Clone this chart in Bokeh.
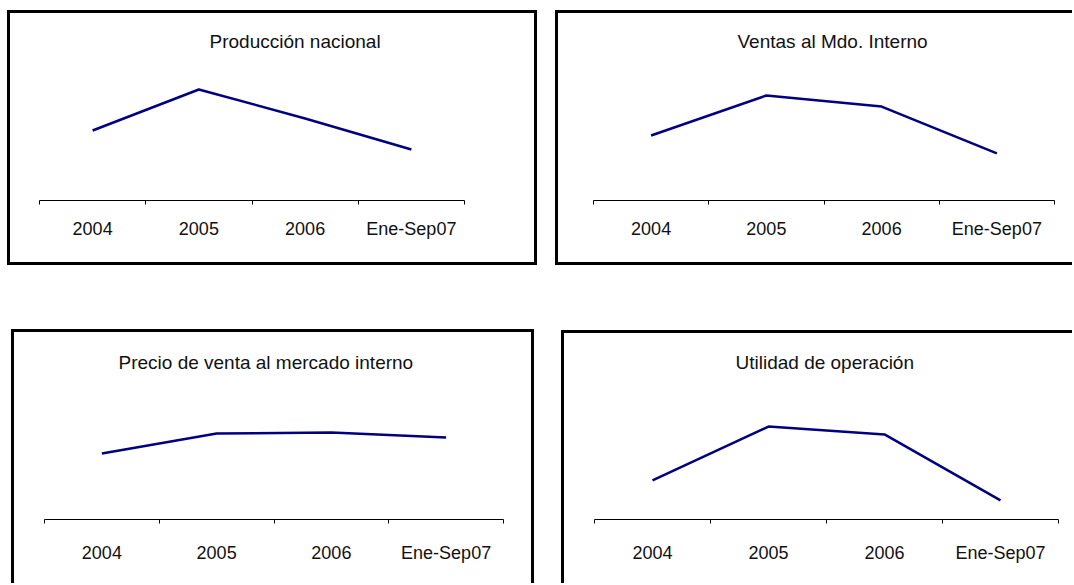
from bokeh.plotting import figure
from bokeh.models import Range1d, LinearAxis, FixedTicker, Spacer
from bokeh.layouts import row, column
from bokeh.embed import file_html
from bokeh.resources import INLINE

# ---- data (relative index; no y scale is printed) ----
categories = ["2004", "2005", "2006", "Ene-Sep07"]
produccion = [50.0, 79.3, 58.6, 36.4]
ventas = [46.4, 75.0, 67.1, 33.6]
precio = [47.5, 61.9, 62.6, 59.0]
utilidad = [28.1, 66.9, 61.2, 13.7]
titles = ["Producción nacional", "Ventas al Mdo. Interno",
          "Precio de venta al mercado interno", "Utilidad de operación"]

FONT = "Liberation Sans"
LINE_COLOR = "#000080"
BORDER = 3


def panel(title, values, width, height, ml, mr, mt, mb, title_offset,
          title_standoff, label_standoff, sides):
    n = len(categories)
    # the canvas is sized to the bordered box, so widen the far margins
    bh = BORDER * sum(s in sides for s in ("left", "right"))
    bv = BORDER * sum(s in sides for s in ("top", "bottom"))
    p = figure(width=width, height=height,
               x_range=Range1d(0, n), y_range=Range1d(0, 100),
               x_axis_location=None, y_axis_location=None,
               toolbar_location=None, output_backend="svg",
               min_border_left=ml, min_border_right=mr + bh,
               min_border_top=mt, min_border_bottom=mb + bv,
               title=title)
    p.outline_line_color = None
    p.xgrid.visible = False
    p.ygrid.visible = False
    p.background_fill_color = "white"
    p.border_fill_color = "white"

    centers = [i + 0.5 for i in range(n)]
    axis = LinearAxis(
        ticker=FixedTicker(ticks=centers, minor_ticks=list(range(n + 1))),
        major_label_overrides={c: cat for c, cat in zip(centers, categories)},
    )
    axis.major_tick_line_color = None
    axis.major_tick_out = 0
    axis.major_tick_in = 0
    axis.minor_tick_line_color = "#000000"
    axis.minor_tick_out = 4
    axis.minor_tick_in = 0
    axis.minor_tick_line_width = 1
    axis.axis_line_color = "#000000"
    axis.axis_line_width = 1
    axis.major_label_standoff = label_standoff
    axis.major_label_text_font = FONT
    axis.major_label_text_font_size = "18px"
    axis.major_label_text_color = "#111111"
    p.add_layout(axis, "below")

    p.line(centers, values, line_color=LINE_COLOR, line_width=2.5)

    p.title.align = "left"
    p.title.offset = title_offset
    p.title.standoff = title_standoff
    p.title.text_font = FONT
    p.title.text_font_size = "19px"
    p.title.text_font_style = "normal"
    p.title.text_color = "#111111"

    st = {"box-sizing": "content-box"}
    for s in ["top", "right", "bottom", "left"]:
        st["border-" + s] = (f"{BORDER}px solid #000000" if s in sides
                             else "0px solid #000000")
    p.styles = st
    return p


p1 = panel(titles[0], produccion, 524, 249, 29, 70, 47, 62, 170, 17, 14,
           ["top", "right", "bottom", "left"])
p2 = panel(titles[1], ventas, 514, 249, 35, 18, 47, 62, 144, 17, 14,
           ["top", "bottom", "left"])
p3 = panel(titles[2], precio, 517, 251, 30, 28, 48, 64, 74, 16, 19,
           ["top", "right", "left"])
p4 = panel(titles[3], utilidad, 508, 250, 30, 14, 47, 64, 141, 16, 19,
           ["top", "left"])

layout = column(
    Spacer(width=10, height=10),
    row(Spacer(width=7, height=1), p1, Spacer(width=18, height=1), p2),
    Spacer(width=10, height=64),
    row(Spacer(width=11, height=1), p3, Spacer(width=27, height=1),
        column(Spacer(width=1, height=1), p4)),
)

open("out.html", "w").write(file_html(layout, INLINE))
